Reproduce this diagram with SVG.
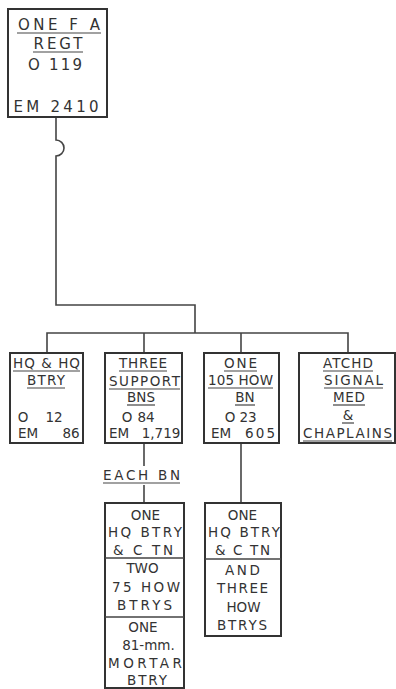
<svg xmlns="http://www.w3.org/2000/svg" width="396" height="689" viewBox="0 0 396 689">
<style>
.bg{fill:#fff}
.box{fill:none;stroke:#333;stroke-width:2}
.ln{fill:none;stroke:#444;stroke-width:1.6}
.ul{fill:none;stroke:#444;stroke-width:1.2}
text{font-family:"DejaVu Sans","Liberation Sans",sans-serif;font-size:13.5px;fill:#333;text-anchor:middle}
.big{font-size:15px}
</style>
<rect class="bg" width="396" height="689"/>
<g id="connectors">
<path class="ln" d="M56 117 V140 A8 8 0 0 1 56 156 V305 H195 V333"/>
<path class="ln" d="M47 353 V333 H348 V353"/>
<path class="ln" d="M144 333 V353"/>
<path class="ln" d="M241 333 V353"/>
<path class="ln" d="M144 443 V466"/>
<path class="ln" d="M144 485 V503"/>
<path class="ln" d="M241 443 V503"/>
</g>
<g id="regt">
<rect class="box" x="8" y="9" width="99" height="108"/>
<text class="big" x="59" y="30" textLength="82" lengthAdjust="spacing">ONE F A</text>
<path class="ul" d="M17 33 H101"/>
<text class="big" x="58" y="49" textLength="49" lengthAdjust="spacing">REGT</text>
<path class="ul" d="M33 52 H83"/>
<text class="big" x="55" y="70" textLength="54" lengthAdjust="spacing">O 119</text>
<text class="big" x="56" y="112" textLength="85" lengthAdjust="spacing">EM 2410</text>
</g>
<g id="hq">
<rect class="box" x="10" y="353" width="73" height="90"/>
<text x="46.5" y="368" textLength="67" lengthAdjust="spacing">HQ &amp; HQ</text>
<path class="ul" d="M13 371 H80"/>
<text x="46" y="385" textLength="38" lengthAdjust="spacing">BTRY</text>
<path class="ul" d="M27 388 H65"/>
<text y="422"><tspan x="23">O</tspan><tspan x="54">12</tspan></text>
<text y="438"><tspan x="28">EM</tspan><tspan x="71">86</tspan></text>
</g>
<g id="support">
<rect class="box" x="105" y="353" width="77" height="90"/>
<text x="143" y="368" textLength="48" lengthAdjust="spacing">THREE</text>
<path class="ul" d="M119 371 H167"/>
<text x="144.5" y="386" textLength="71" lengthAdjust="spacing">SUPPORT</text>
<path class="ul" d="M109 389 H180"/>
<text x="141" y="402">BNS</text>
<path class="ul" d="M127 405 H155"/>
<text y="422"><tspan x="127">O</tspan><tspan x="146">84</tspan></text>
<text y="438"><tspan x="119">EM</tspan><tspan x="161">1,719</tspan></text>
</g>
<g id="how105">
<rect class="box" x="204" y="353" width="75" height="90"/>
<text x="240.5" y="368" textLength="33" lengthAdjust="spacing">ONE</text>
<path class="ul" d="M224 371 H257"/>
<text x="240.5" y="385" textLength="65" lengthAdjust="spacing">105 HOW</text>
<path class="ul" d="M208 388 H273"/>
<text x="245" y="402">BN</text>
<path class="ul" d="M235 405 H255"/>
<text y="422"><tspan x="230">O</tspan><tspan x="248">23</tspan></text>
<text y="438"><tspan x="221">EM</tspan><tspan x="260" textLength="30" lengthAdjust="spacing">605</tspan></text>
</g>
<g id="atchd">
<rect class="box" x="299" y="353" width="96" height="90"/>
<text x="348" y="368" textLength="50" lengthAdjust="spacing">ATCHD</text>
<path class="ul" d="M323 371 H373"/>
<text x="353.5" y="385" textLength="59" lengthAdjust="spacing">SIGNAL</text>
<path class="ul" d="M324 388 H383"/>
<text x="349" y="402" textLength="32" lengthAdjust="spacing">MED</text>
<path class="ul" d="M333 405 H365"/>
<text x="348" y="420">&amp;</text>
<path class="ul" d="M342 423 H354"/>
<text x="347.5" y="438" textLength="89" lengthAdjust="spacing">CHAPLAINS</text>
<path class="ul" d="M303 441 H392"/>
</g>
<g id="each-bn">
<text x="141.5" y="480" textLength="77" lengthAdjust="spacing">EACH BN</text>
<path class="ul" d="M103 483 H180"/>
</g>
<g id="bn-units">
<rect class="box" x="105" y="503" width="79" height="185"/>
<path class="ln" d="M105 558 H184 M105 617 H184"/>
<text x="145.5" y="520">ONE</text>
<text x="145" y="537" textLength="74" lengthAdjust="spacing">HQ BTRY</text>
<text x="143" y="555" textLength="60" lengthAdjust="spacing">&amp; C TN</text>
<text x="142.5" y="573">TWO</text>
<text x="146" y="592" textLength="68" lengthAdjust="spacing">75 HOW</text>
<text x="144.5" y="610" textLength="55" lengthAdjust="spacing">BTRYS</text>
<text x="143" y="632">ONE</text>
<text x="148.5" y="650">81-mm.</text>
<text x="145" y="668" textLength="74" lengthAdjust="spacing">MORTAR</text>
<text x="147" y="685" textLength="40" lengthAdjust="spacing">BTRY</text>
</g>
<g id="how-units">
<rect class="box" x="205" y="503" width="76" height="133"/>
<path class="ln" d="M205 559 H281"/>
<text x="242.5" y="520">ONE</text>
<text x="244" y="537" textLength="72" lengthAdjust="spacing">HQ BTRY</text>
<text x="242.5" y="555" textLength="55" lengthAdjust="spacing">&amp; C TN</text>
<text x="242.5" y="575" textLength="35" lengthAdjust="spacing">AND</text>
<text x="242.5" y="593" textLength="51" lengthAdjust="spacing">THREE</text>
<text x="243.5" y="612">HOW</text>
<text x="242" y="630" textLength="50" lengthAdjust="spacing">BTRYS</text>
</g>
</svg>
